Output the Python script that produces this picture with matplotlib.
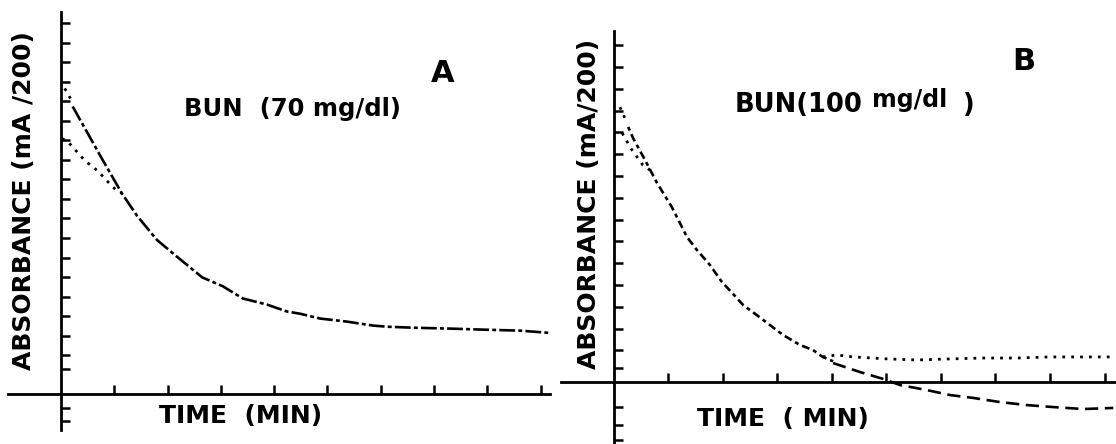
import matplotlib
matplotlib.use('Agg')
import matplotlib.pyplot as plt

# panel A, BUN 70 mg/dl  (x in tick units of time, y in tick units of absorbance)
a_main_x = [0.22, 0.77, 1.14, 1.43, 1.80, 2.15, 2.65, 3.04, 3.41, 3.86, 4.24, 4.48,
            4.86, 5.37, 5.85, 6.12, 6.60, 7.35, 7.92, 8.61, 9.14]
a_main_y = [14.74, 12.06, 10.30, 9.13, 7.90, 7.10, 5.98, 5.52, 4.90, 4.59, 4.23, 4.12,
            3.87, 3.71, 3.51, 3.45, 3.40, 3.35, 3.30, 3.25, 3.14]
a_top_x = [0.07, 0.21]
a_top_y = [15.67, 15.00]
a_low_x = [0.02, 0.13, 0.45, 0.69, 0.88, 1.07, 1.14]
a_low_y = [13.10, 12.94, 11.96, 11.44, 10.88, 10.36, 10.30]
a_yticks = [1.3] + list(range(2, 20)) + [-0.7, -1.4]
a_xticks = list(range(1, 10))

# panel B, BUN 100 mg/dl
b_main_x = [0.26, 0.35, 0.57, 0.79, 1.06, 1.34, 1.52, 1.76, 1.98, 2.17, 2.37, 2.62,
            2.81, 3.10, 3.41, 3.65, 3.83, 4.02]
b_main_y = [11.70, 11.19, 10.18, 9.13, 8.03, 6.65, 6.06, 5.37, 4.59, 4.08, 3.53, 3.07,
            2.71, 2.16, 1.70, 1.47, 1.15, 0.95]
b_top_x = [0.11, 0.24]
b_top_y = [12.61, 11.88]
b_low_x = [0.15, 0.33, 0.53, 0.66]
b_low_y = [11.42, 10.64, 9.95, 9.72]
b_plateau_x = [3.83, 4.09, 4.39, 5.01, 5.56, 6.17, 6.77, 7.39, 8.00, 8.61, 9.16]
b_plateau_y = [1.15, 1.24, 1.15, 1.06, 1.01, 1.06, 1.10, 1.10, 1.15, 1.15, 1.15]
b_drift_x = [4.02, 4.51, 4.94, 5.25, 5.74, 6.17, 6.59, 7.08, 7.58, 8.06, 8.61, 9.16]
b_drift_y = [0.87, 0.46, 0.14, -0.14, -0.37, -0.60, -0.73, -0.92, -1.06, -1.15, -1.24, -1.19]
b_yticks = [0.64] + [1.45 + k for k in range(15)] + [-1.15, -1.97, -2.66]
b_xticks = list(range(1, 10))

font = ['DejaVu Sans']
dashdot = (0, (6, 1.2, 1.5, 1.2))
dots = (0, (1, 2.2))


def setup(ax, xlim, ylim, xb, yb, xticks, yticks):
    ax.set_xlim(*xlim)
    ax.set_ylim(*ylim)
    for s in ['top', 'right']:
        ax.spines[s].set_visible(False)
    ax.spines['left'].set_position(('data', 0))
    ax.spines['bottom'].set_position(('data', 0))
    ax.spines['left'].set_bounds(*yb)
    ax.spines['bottom'].set_bounds(*xb)
    for s in ['left', 'bottom']:
        ax.spines[s].set_linewidth(2.0)
    ax.set_xticks(xticks)
    ax.set_yticks(yticks)
    ax.tick_params(direction='in', length=6.5, width=1.8, labelleft=False, labelbottom=False)
    ax.patch.set_alpha(0)


if __name__ == '__main__':
    fig = plt.figure(figsize=(11.16, 4.44), dpi=100)

    axA = fig.add_axes([0, 0, 556 / 1116, 1])
    setup(axA, (-1.144, 9.287), (-2.564, 20.205), (-0.99, 9.17), (-1.85, 19.6), a_xticks, a_yticks)
    axA.plot(a_main_x, a_main_y, color='black', lw=1.9, linestyle=dashdot)
    axA.plot(a_top_x, a_top_y, color='black', lw=2.0, linestyle=dots)
    axA.plot(a_low_x, a_low_y, color='black', lw=2.0, linestyle=dots)

    axB = fig.add_axes([556 / 1116, 0, 560 / 1116, 1])
    setup(axB, (-1.064, 9.211), (-2.844, 17.523), (-0.97, 9.3), (-2.9, 16.1), b_xticks, b_yticks)
    axB.plot(b_main_x, b_main_y, color='black', lw=1.9, linestyle=(0, (1.5, 1.5, 3, 1.5)))
    axB.plot(b_top_x, b_top_y, color='black', lw=2.0, linestyle=dots)
    axB.plot(b_low_x, b_low_y, color='black', lw=2.0, linestyle=dots)
    axB.plot(b_plateau_x, b_plateau_y, color='black', lw=2.0, linestyle=dots)
    axB.plot(b_drift_x, b_drift_y, color='black', lw=1.9, linestyle=(0, (5, 2.5)))

    # labels, placed in figure pixels
    def ptext(x, y, s, **kw):
        fig.text(x / 1116, 1 - y / 444, s, family=font, fontweight='bold', **kw)

    ptext(24, 201, 'ABSORBANCE (mA /200)', rotation=90, fontsize=18, ha='center', va='center')
    ptext(589, 204, 'ABSORBANCE (mA/200)', rotation=90, fontsize=18, ha='center', va='center')
    ptext(443, 73, 'A', fontsize=22, ha='center', va='center')
    ptext(1024, 62, 'B', fontsize=22, ha='center', va='center')
    ptext(184, 109, 'BUN  (70 mg/dl)', fontsize=17.5, ha='left', va='center')
    ptext(735, 105, 'BUN(100', fontsize=18.5, ha='left', va='center')
    ptext(872, 100, 'mg/dl', fontsize=17, ha='left', va='center')
    ptext(963, 105, ')', fontsize=18.5, ha='left', va='center')
    ptext(159, 416, 'TIME  (MIN)', fontsize=18, ha='left', va='center')
    ptext(697, 419, 'TIME  ( MIN)', fontsize=18, ha='left', va='center')

    fig.savefig('out.png', dpi=100)
